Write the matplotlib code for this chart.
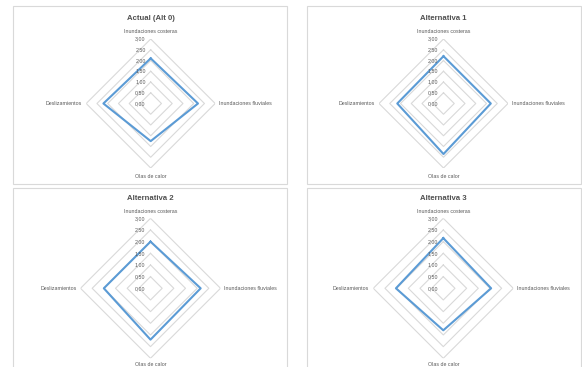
import numpy as np
import matplotlib
matplotlib.use("Agg")
import matplotlib.pyplot as plt
from matplotlib.patches import Rectangle

plt.rcParams['font.family'] = ['Liberation Sans', 'DejaVu Sans']

# categories, clockwise from the top
categories = ["Inundaciones costeras", "Inundaciones fluviales", "Olas de calor", "Deslizamientos"]
titles = ["Actual (Alt 0)", "Alternativa 1", "Alternativa 2", "Alternativa 3"]

actual = [2.10, 2.20, 1.75, 2.20]
alt1 = [2.20, 2.20, 2.35, 2.15]
alt2 = [2.00, 2.15, 2.20, 2.00]
alt3 = [2.15, 2.05, 1.80, 2.03]

ticks = [0.0, 0.5, 1.0, 1.5, 2.0, 2.5, 3.0]
tick_labels = ["0,00", "0,50", "1,00", "1,50", "2,00", "2,50", "3,00"]

W, H = 582, 367
fig = plt.figure(figsize=(W / 100, H / 100), dpi=100)
fig.patch.set_facecolor("white")

blue = "#5B9BD5"
grid = "#D9D9D9"
txt = "#595959"

# chart boxes (pixels: x0, y0 from top, x1, y1)
boxes = [(13, 6, 287, 183.5), (307, 6, 581, 183.5),
         (13, 188, 287, 372), (307, 188, 581, 372)]
for x0, y0, x1, y1 in boxes:
    fig.add_artist(Rectangle((x0 / W, 1 - y1 / H), (x1 - x0) / W, (y1 - y0) / H,
                             transform=fig.transFigure, fill=False,
                             edgecolor=grid, linewidth=0.8))

# radar centers, radius and bottom label offset (pixels)
layout = [(150.7, 103.5, 64.5, -9), (443.5, 103.5, 64.5, -9),
          (150.5, 288.3, 70.0, -6.5), (443.3, 288.3, 70.0, -6.5)]
series = [actual, alt1, alt2, alt3]

theta = np.arange(len(categories)) * 2 * np.pi / len(categories)
theta_c = np.append(theta, theta[0])

for (cx, cy, R, bot), vals, title in zip(layout, series, titles):
    ax = fig.add_axes([(cx - R) / W, 1 - (cy + R) / H, 2 * R / W, 2 * R / H],
                      projection="polar")
    ax.set_theta_zero_location("N")
    ax.set_theta_direction(-1)
    ax.set_ylim(0, 3)
    ax.grid(False)
    ax.set_xticks([])
    ax.set_yticks([])
    ax.spines["polar"].set_visible(False)
    ax.patch.set_alpha(0)

    # diamond rings
    for r in ticks[1:]:
        ax.plot(theta_c, [r] * len(theta_c), color=grid, lw=0.8, zorder=1)

    v = list(vals) + [vals[0]]
    ax.plot(theta_c, v, color=blue, lw=1.5, zorder=3, clip_on=False)

    # value labels on the top axis
    for r, lab in zip(ticks, tick_labels):
        ax.annotate(lab, (0, r), xytext=(-5, 0), textcoords="offset pixels",
                    ha="right", va="center", fontsize=3.8, color=txt)

    # category labels
    offs = [(0, 7, "center", "center"), (4, 0, "left", "center"),
            (0, bot, "center", "center"), (-4, 0, "right", "center")]
    for t, lab, (dx, dy, ha, va) in zip(theta, categories, offs):
        ax.annotate(lab, (t, 3), xytext=(dx, dy), textcoords="offset pixels",
                    ha=ha, va=va, fontsize=3.8, color=txt, annotation_clip=False)

    ax.annotate(title, (0.5, 1), xycoords="axes fraction", xytext=(0, 20),
                textcoords="offset pixels", ha="center", va="center",
                fontsize=5.6, fontweight="bold", color="#505050")

fig.savefig("out.png", dpi=100)
